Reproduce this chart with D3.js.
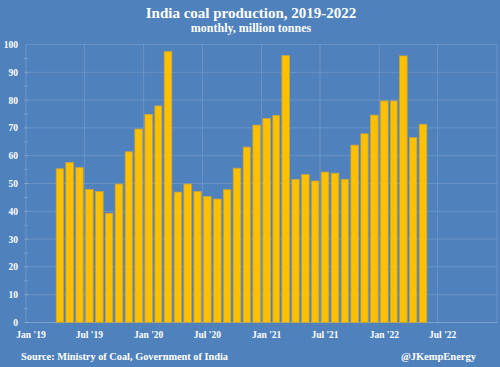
<!DOCTYPE html>
<html>
<head>
<meta charset="utf-8">
<script src="https://cdn.jsdelivr.net/npm/d3@7"></script>
<style>
  body { margin: 0; background: #4f81bd; }
  svg text { font-family: "Liberation Serif", "DejaVu Serif", serif; font-weight: bold; fill: #fff; }
</style>
</head>
<body>
<main></main>
<script>
var w = 500;
var h = 367;

// months Apr 2019 .. May 2022
var startMonth = "2019-04";
var production = [
  55.3, 57.6, 55.7, 47.9, 47.1, 39.3, 49.8, 61.4, 69.6,
  74.9, 77.9, 97.5, 46.9, 49.8, 47.1, 45.3, 44.4, 47.8, 55.5, 63.1, 71.0,
  73.4, 74.5, 96.0, 51.5, 53.2, 50.9, 54.1, 53.7, 51.5, 63.8, 67.9, 74.6,
  79.7, 79.7, 95.9, 66.5, 71.3
];
var yTicks = [0, 10, 20, 30, 40, 50, 60, 70, 80, 90, 100];
var xTickDates = ["2019-01", "2019-07", "2020-01", "2020-07", "2021-01", "2021-07", "2022-01", "2022-07"];

var parseMonth = d3.timeParse("%Y-%m");
var formatTick = function (d) {
  return d3.timeFormat("%b")(d) + " '" + d3.timeFormat("%y")(d);
};

var data = production.map(function (v, i) {
  var d = d3.timeMonth.offset(parseMonth(startMonth), i);
  return { month: d, value: v };
});

var svg = d3.select("main").append("svg").attr("width", w).attr("height", h);

svg.append("rect").attr("width", w).attr("height", h).attr("fill", "#4f81bd");

// scales
var xScale = d3.scaleTime()
  .domain([parseMonth("2019-01"), parseMonth("2023-01")])
  .range([26, 497]);
var yScale = d3.scaleLinear()
  .domain([0, 100])
  .range([322.5, 44.5]);

// gridlines
svg.append("g")
  .selectAll("line.hgrid")
  .data(yTicks)
  .enter()
  .append("line")
  .attr("x1", 26).attr("x2", 497)
  .attr("y1", function (d) { return yScale(d); })
  .attr("y2", function (d) { return yScale(d); })
  .attr("stroke", "#ffffff")
  .attr("stroke-opacity", function (d) { return d === 0 ? 0.25 : 0.15; })
  .attr("stroke-width", 1);

svg.append("g")
  .selectAll("line.vgrid")
  .data(xTickDates.concat(["2023-01"]))
  .enter()
  .append("line")
  .attr("x1", function (d) { return xScale(parseMonth(d)); })
  .attr("x2", function (d) { return xScale(parseMonth(d)); })
  .attr("y1", 44.5).attr("y2", 322.5)
  .attr("stroke", "#ffffff")
  .attr("stroke-opacity", 0.15);

// minor ticks on y axis
svg.append("g")
  .selectAll("line.minor")
  .data(d3.range(0, 100, 5))
  .enter()
  .append("line")
  .attr("x1", 24).attr("x2", 28)
  .attr("y1", function (d) { return yScale(d); })
  .attr("y2", function (d) { return yScale(d); })
  .attr("stroke", "#ffffff")
  .attr("stroke-opacity", 0.2);

// bars
svg.append("g")
  .selectAll("rect.bar")
  .data(data)
  .enter()
  .append("rect")
  .attr("x", function (d) { return xScale(d.month) + 1.2; })
  .attr("width", function (d) { return xScale(d3.timeMonth.offset(d.month, 1)) - xScale(d.month) - 2.4; })
  .attr("y", function (d) { return yScale(d.value); })
  .attr("height", function (d) { return yScale(0) - yScale(d.value); })
  .attr("fill", "#ffc000")
  .attr("stroke", "#c9a43a")
  .attr("stroke-width", 0.8);

// axis labels
var yAxis = d3.axisLeft(yScale).tickValues(yTicks).tickSize(0).tickPadding(0);
var gy = svg.append("g")
  .attr("transform", "translate(18,0)")
  .call(yAxis);
gy.select(".domain").remove();
gy.selectAll("text")
  .attr("font-size", "9.5px")
  .attr("fill", "#fff")
  .attr("font-family", "Liberation Serif, serif");

var gx = svg.append("g")
  .attr("transform", "translate(0,331)");
gx.selectAll("text")
  .data(xTickDates)
  .enter()
  .append("text")
  .attr("x", function (d) {
    var m = parseMonth(d);
    return (xScale(m) + xScale(d3.timeMonth.offset(m, 1))) / 2;
  })
  .attr("dy", "0.71em")
  .attr("text-anchor", "middle")
  .attr("font-size", "9.5px")
  .text(function (d) { return formatTick(parseMonth(d)); });

// titles
svg.append("text")
  .attr("x", 251).attr("y", 18)
  .attr("text-anchor", "middle")
  .attr("font-size", "15px")
  .text("India coal production, 2019-2022");
svg.append("text")
  .attr("x", 251).attr("y", 32)
  .attr("text-anchor", "middle")
  .attr("font-size", "12px")
  .text("monthly, million tonnes");

// footer
svg.append("text")
  .attr("x", 21).attr("y", 360)
  .attr("font-size", "9.5px")
  .attr("textLength", 207)
  .attr("lengthAdjust", "spacingAndGlyphs")
  .text("Source: Ministry of Coal, Government of India");
svg.append("text")
  .attr("x", 476).attr("y", 360)
  .attr("text-anchor", "end")
  .attr("font-size", "10.5px")
  .text("@JKempEnergy");
</script>
</body>
</html>
